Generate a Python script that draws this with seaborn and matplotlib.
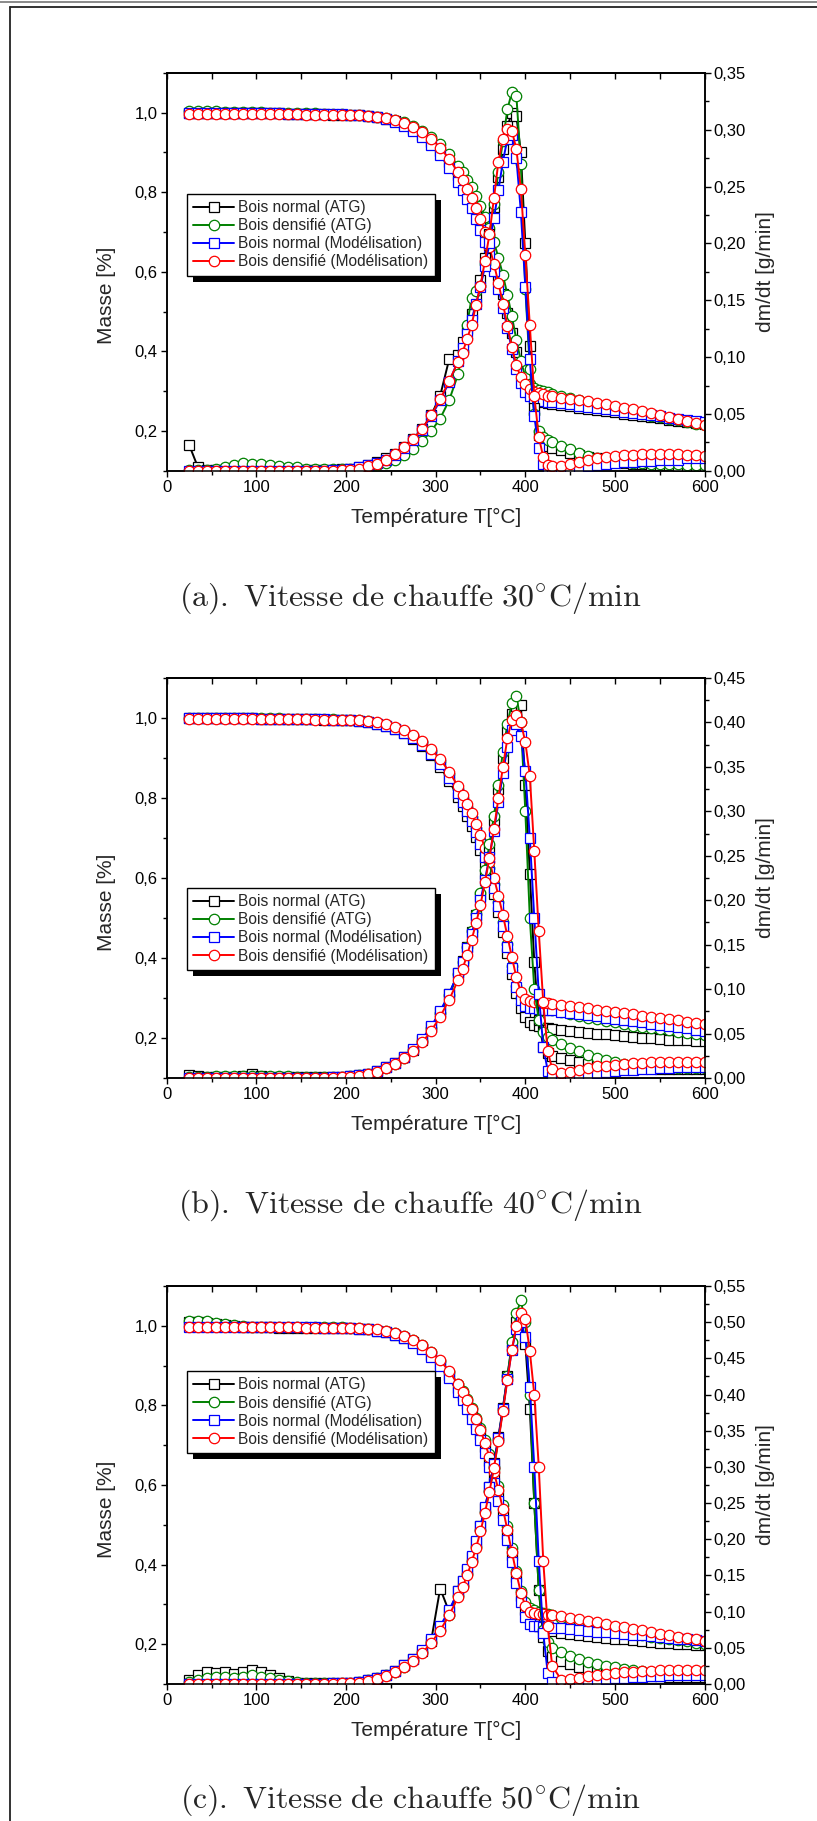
import matplotlib
matplotlib.use("Agg")
import matplotlib.pyplot as plt
import seaborn as sns
from matplotlib.lines import Line2D
from matplotlib.patches import Rectangle
from matplotlib.ticker import FuncFormatter, MultipleLocator
from matplotlib.transforms import IdentityTransform

# temperature grid shared by all curves (°C)
temp = ([25, 35, 45, 55, 65, 75, 85, 95, 105, 115, 125, 135, 145, 155, 165, 175, 185, 195]
        + [205, 215, 225, 235, 245, 255, 265, 275, 285, 295, 305, 315, 325]
        + [330, 335, 340, 345, 350, 355, 360, 365, 370, 375, 380, 385, 390, 395, 400,
           405, 410, 415, 420, 425, 430]
        + [440, 450, 460, 470, 480, 490, 500, 510, 520, 530, 540, 550, 560, 570, 580, 590, 600])

labels = ["Bois normal (ATG)", "Bois densifié (ATG)",
          "Bois normal (Modélisation)", "Bois densifié (Modélisation)"]

# ---------------- (a) 30 °C/min ----------------
tg_norm_atg_a = ([1.000, 1.000, 1.000, 1.000, 1.000, 0.999, 0.999, 0.999, 0.998, 0.998, 0.998, 0.997, 0.997, 0.997, 0.996, 0.996, 0.995, 0.995]
                 + [0.994, 0.993, 0.991, 0.988, 0.984, 0.978, 0.970, 0.959, 0.945, 0.927, 0.904, 0.876, 0.843]
                 + [0.824, 0.803, 0.781, 0.757, 0.730, 0.700, 0.667, 0.630, 0.589, 0.544, 0.496, 0.446, 0.398, 0.356, 0.322,
                    0.298, 0.284, 0.277, 0.273, 0.270, 0.268]
                 + [0.265, 0.262, 0.259, 0.256, 0.253, 0.250, 0.247, 0.244, 0.241, 0.238, 0.235, 0.232, 0.229, 0.226, 0.223, 0.220, 0.217])
tg_dens_atg_a = ([1.003, 1.003, 1.003, 1.003, 1.002, 1.002, 1.002, 1.001, 1.001, 1.000, 1.000, 0.999, 0.999, 0.998, 0.998, 0.997, 0.997, 0.996]
                 + [0.995, 0.994, 0.992, 0.990, 0.987, 0.982, 0.976, 0.967, 0.955, 0.940, 0.920, 0.895, 0.866]
                 + [0.850, 0.832, 0.812, 0.790, 0.766, 0.739, 0.709, 0.675, 0.636, 0.592, 0.543, 0.488, 0.430, 0.376, 0.337,
                    0.318, 0.309, 0.304, 0.300, 0.297, 0.294]
                 + [0.289, 0.284, 0.279, 0.274, 0.269, 0.264, 0.259, 0.254, 0.249, 0.244, 0.239, 0.235, 0.231, 0.227, 0.223, 0.219, 0.215])
tg_norm_mod_a = ([0.998, 0.998, 0.998, 0.998, 0.998, 0.998, 0.998, 0.998, 0.998, 0.998, 0.998, 0.997, 0.997, 0.997, 0.997, 0.996, 0.996, 0.996]
                 + [0.995, 0.993, 0.991, 0.988, 0.983, 0.976, 0.967, 0.955, 0.939, 0.918, 0.893, 0.862, 0.826]
                 + [0.806, 0.784, 0.760, 0.734, 0.706, 0.675, 0.640, 0.601, 0.558, 0.510, 0.458, 0.405, 0.357, 0.320, 0.298,
                    0.287, 0.281, 0.278, 0.276, 0.274, 0.273]
                 + [0.270, 0.267, 0.264, 0.261, 0.258, 0.255, 0.252, 0.249, 0.246, 0.243, 0.240, 0.237, 0.234, 0.231, 0.228, 0.225, 0.222])
tg_dens_mod_a = ([0.997, 0.997, 0.997, 0.997, 0.997, 0.997, 0.997, 0.997, 0.997, 0.996, 0.996, 0.996, 0.996, 0.995, 0.995, 0.995, 0.994, 0.994]
                 + [0.994, 0.993, 0.992, 0.990, 0.986, 0.981, 0.974, 0.965, 0.951, 0.935, 0.912, 0.884, 0.850]
                 + [0.830, 0.808, 0.785, 0.760, 0.732, 0.700, 0.662, 0.620, 0.572, 0.520, 0.465, 0.412, 0.365, 0.335, 0.318,
                    0.306, 0.299, 0.295, 0.292, 0.289, 0.287]
                 + [0.284, 0.281, 0.278, 0.275, 0.271, 0.267, 0.263, 0.259, 0.255, 0.250, 0.246, 0.241, 0.236, 0.231, 0.226, 0.221, 0.216])

dtg_norm_atg_a = ([0.023, 0.003, 0.001, 0.001, 0.001, 0.001, 0.001, 0.001, 0.001, 0.001, 0.001, 0.001, 0.001, 0.001, 0.001, 0.001, 0.001, 0.002]
                  + [0.002, 0.003, 0.005, 0.008, 0.011, 0.015, 0.021, 0.028, 0.037, 0.049, 0.066, 0.098, 0.102]
                  + [0.113, 0.125, 0.138, 0.152, 0.168, 0.187, 0.208, 0.232, 0.258, 0.283, 0.303, 0.315, 0.312, 0.280, 0.200,
                     0.110, 0.055, 0.032, 0.025, 0.022, 0.020]
                  + [0.018, 0.016, 0.014, 0.012, 0.011, 0.009, 0.008, 0.007, 0.006, 0.006, 0.005, 0.005, 0.005, 0.004, 0.004, 0.004, 0.004])
dtg_dens_atg_a = ([0.001, 0.001, 0.001, 0.002, 0.003, 0.005, 0.007, 0.006, 0.006, 0.005, 0.004, 0.003, 0.003, 0.002, 0.002, 0.002, 0.002, 0.002]
                  + [0.002, 0.002, 0.003, 0.005, 0.007, 0.010, 0.014, 0.019, 0.026, 0.035, 0.046, 0.062, 0.085]
                  + [0.105, 0.128, 0.152, 0.158, 0.163, 0.182, 0.207, 0.235, 0.263, 0.290, 0.318, 0.333, 0.330, 0.270, 0.160,
                     0.090, 0.050, 0.035, 0.030, 0.027, 0.025]
                  + [0.022, 0.019, 0.016, 0.013, 0.011, 0.010, 0.009, 0.008, 0.007, 0.007, 0.006, 0.006, 0.006, 0.006, 0.005, 0.005, 0.005])
dtg_norm_mod_a = ([0.000, 0.000, 0.000, 0.000, 0.000, 0.000, 0.000, 0.000, 0.000, 0.000, 0.000, 0.000, 0.000, 0.000, 0.000, 0.000, 0.001, 0.001]
                  + [0.002, 0.003, 0.005, 0.007, 0.010, 0.014, 0.020, 0.027, 0.036, 0.048, 0.062, 0.078, 0.097]
                  + [0.108, 0.120, 0.133, 0.147, 0.162, 0.180, 0.200, 0.222, 0.247, 0.272, 0.292, 0.295, 0.275, 0.228, 0.162,
                     0.098, 0.048, 0.020, 0.006, 0.001, 0.000]
                  + [0.001, 0.002, 0.003, 0.004, 0.005, 0.006, 0.007, 0.008, 0.008, 0.009, 0.009, 0.010, 0.010, 0.010, 0.011, 0.011, 0.011])
dtg_dens_mod_a = ([0.000, 0.000, 0.000, 0.000, 0.000, 0.000, 0.000, 0.000, 0.000, 0.000, 0.000, 0.000, 0.000, 0.000, 0.000, 0.000, 0.000, 0.001]
                  + [0.001, 0.002, 0.004, 0.006, 0.010, 0.015, 0.021, 0.028, 0.037, 0.049, 0.063, 0.079, 0.096]
                  + [0.104, 0.116, 0.128, 0.146, 0.163, 0.185, 0.208, 0.240, 0.272, 0.292, 0.301, 0.299, 0.283, 0.248, 0.190,
                     0.128, 0.066, 0.030, 0.012, 0.005, 0.004]
                  + [0.004, 0.006, 0.008, 0.010, 0.011, 0.012, 0.013, 0.014, 0.014, 0.015, 0.015, 0.015, 0.015, 0.015, 0.014, 0.014, 0.013])

# ---------------- (b) 40 °C/min ----------------
tg_norm_atg_b = ([1.000, 1.000, 1.000, 0.999, 0.999, 0.999, 0.999, 0.999, 0.998, 0.998, 0.998, 0.998, 0.997, 0.997, 0.997, 0.996, 0.996, 0.996]
                 + [0.995, 0.993, 0.990, 0.986, 0.980, 0.972, 0.962, 0.948, 0.930, 0.907, 0.878, 0.843, 0.802]
                 + [0.780, 0.756, 0.730, 0.702, 0.671, 0.637, 0.600, 0.559, 0.514, 0.465, 0.413, 0.360, 0.312, 0.275, 0.252,
                    0.240, 0.233, 0.229, 0.226, 0.224, 0.222]
                 + [0.219, 0.217, 0.215, 0.213, 0.211, 0.209, 0.207, 0.205, 0.203, 0.201, 0.199, 0.197, 0.196, 0.195, 0.194, 0.193, 0.192])
tg_dens_atg_b = ([1.001, 1.001, 1.001, 1.000, 1.000, 1.000, 1.000, 0.999, 0.999, 0.999, 0.999, 0.998, 0.998, 0.998, 0.997, 0.997, 0.997, 0.996]
                 + [0.996, 0.994, 0.992, 0.988, 0.983, 0.976, 0.967, 0.955, 0.939, 0.918, 0.892, 0.860, 0.822]
                 + [0.800, 0.777, 0.752, 0.725, 0.695, 0.662, 0.625, 0.585, 0.540, 0.490, 0.436, 0.380, 0.330, 0.300, 0.290,
                    0.285, 0.281, 0.278, 0.275, 0.272, 0.270]
                 + [0.265, 0.260, 0.255, 0.251, 0.247, 0.243, 0.239, 0.235, 0.231, 0.228, 0.225, 0.222, 0.219, 0.216, 0.213, 0.210, 0.207])
tg_norm_mod_b = ([0.999, 0.999, 0.999, 0.999, 0.999, 0.999, 0.999, 0.999, 0.998, 0.998, 0.998, 0.998, 0.998, 0.997, 0.997, 0.997, 0.996, 0.996]
                 + [0.995, 0.993, 0.990, 0.986, 0.981, 0.973, 0.963, 0.950, 0.933, 0.911, 0.884, 0.851, 0.812]
                 + [0.790, 0.767, 0.742, 0.715, 0.685, 0.652, 0.615, 0.574, 0.529, 0.480, 0.428, 0.375, 0.327, 0.295, 0.281,
                    0.276, 0.274, 0.272, 0.271, 0.270, 0.269]
                 + [0.266, 0.263, 0.260, 0.257, 0.254, 0.251, 0.248, 0.245, 0.242, 0.239, 0.236, 0.233, 0.230, 0.227, 0.224, 0.221, 0.218])
tg_dens_mod_b = ([0.998, 0.998, 0.998, 0.998, 0.998, 0.998, 0.998, 0.998, 0.998, 0.997, 0.997, 0.997, 0.997, 0.997, 0.996, 0.996, 0.996, 0.995]
                 + [0.995, 0.994, 0.992, 0.989, 0.985, 0.978, 0.970, 0.958, 0.942, 0.922, 0.897, 0.866, 0.829]
                 + [0.808, 0.786, 0.762, 0.736, 0.707, 0.675, 0.640, 0.600, 0.556, 0.507, 0.455, 0.402, 0.352, 0.315, 0.298,
                    0.292, 0.290, 0.289, 0.288, 0.287, 0.286]
                 + [0.283, 0.280, 0.277, 0.274, 0.271, 0.268, 0.265, 0.262, 0.259, 0.256, 0.253, 0.250, 0.247, 0.244, 0.241, 0.238, 0.235])

dtg_norm_atg_b = ([0.003, 0.002, 0.001, 0.001, 0.001, 0.001, 0.002, 0.004, 0.002, 0.001, 0.001, 0.001, 0.001, 0.001, 0.001, 0.001, 0.001, 0.001]
                  + [0.002, 0.003, 0.005, 0.008, 0.012, 0.017, 0.024, 0.032, 0.043, 0.057, 0.074, 0.094, 0.118]
                  + [0.132, 0.147, 0.164, 0.183, 0.205, 0.230, 0.258, 0.290, 0.325, 0.360, 0.390, 0.410, 0.418, 0.420, 0.330,
                     0.230, 0.130, 0.065, 0.035, 0.028, 0.025]
                  + [0.022, 0.020, 0.018, 0.016, 0.015, 0.014, 0.013, 0.012, 0.012, 0.011, 0.011, 0.010, 0.010, 0.010, 0.010, 0.010, 0.010])
dtg_dens_atg_b = ([0.001, 0.001, 0.001, 0.002, 0.002, 0.002, 0.002, 0.002, 0.002, 0.002, 0.002, 0.002, 0.001, 0.001, 0.001, 0.001, 0.001, 0.001]
                  + [0.002, 0.003, 0.005, 0.007, 0.011, 0.016, 0.023, 0.031, 0.042, 0.056, 0.073, 0.093, 0.117]
                  + [0.131, 0.147, 0.165, 0.185, 0.208, 0.234, 0.263, 0.295, 0.330, 0.367, 0.398, 0.422, 0.430, 0.400, 0.300,
                     0.180, 0.100, 0.065, 0.052, 0.046, 0.043]
                  + [0.038, 0.034, 0.030, 0.026, 0.023, 0.020, 0.018, 0.016, 0.015, 0.014, 0.013, 0.012, 0.012, 0.011, 0.011, 0.011, 0.011])
dtg_norm_mod_b = ([0.000, 0.000, 0.000, 0.000, 0.000, 0.000, 0.000, 0.000, 0.000, 0.000, 0.000, 0.000, 0.000, 0.000, 0.000, 0.000, 0.001, 0.001]
                  + [0.002, 0.003, 0.005, 0.008, 0.012, 0.017, 0.024, 0.033, 0.044, 0.058, 0.075, 0.095, 0.118]
                  + [0.131, 0.146, 0.162, 0.180, 0.200, 0.223, 0.249, 0.278, 0.310, 0.343, 0.372, 0.392, 0.398, 0.385, 0.345,
                     0.270, 0.180, 0.095, 0.035, 0.008, 0.002]
                  + [0.002, 0.003, 0.004, 0.005, 0.006, 0.007, 0.008, 0.009, 0.009, 0.010, 0.010, 0.011, 0.011, 0.012, 0.012, 0.012, 0.012])
dtg_dens_mod_b = ([0.000, 0.000, 0.000, 0.000, 0.000, 0.000, 0.000, 0.000, 0.000, 0.000, 0.000, 0.000, 0.000, 0.000, 0.000, 0.000, 0.000, 0.001]
                  + [0.001, 0.002, 0.004, 0.007, 0.011, 0.016, 0.022, 0.030, 0.040, 0.053, 0.069, 0.088, 0.110]
                  + [0.123, 0.138, 0.155, 0.174, 0.195, 0.220, 0.248, 0.280, 0.315, 0.350, 0.382, 0.403, 0.408, 0.400, 0.378,
                     0.340, 0.255, 0.165, 0.085, 0.030, 0.010]
                  + [0.006, 0.007, 0.009, 0.011, 0.013, 0.014, 0.015, 0.016, 0.017, 0.017, 0.018, 0.018, 0.018, 0.018, 0.018, 0.018, 0.018])

# ---------------- (c) 50 °C/min ----------------
tg_norm_atg_c = ([1.010, 1.010, 1.008, 1.005, 1.003, 1.000, 0.998, 0.997, 0.996, 0.996, 0.995, 0.995, 0.995, 0.995, 0.995, 0.995, 0.995, 0.995]
                 + [0.994, 0.993, 0.991, 0.988, 0.984, 0.978, 0.970, 0.959, 0.945, 0.927, 0.904, 0.876, 0.843]
                 + [0.824, 0.803, 0.780, 0.755, 0.727, 0.696, 0.661, 0.622, 0.578, 0.530, 0.478, 0.424, 0.370, 0.322, 0.287,
                    0.265, 0.252, 0.245, 0.240, 0.236, 0.233]
                 + [0.229, 0.226, 0.223, 0.220, 0.218, 0.216, 0.214, 0.212, 0.210, 0.208, 0.206, 0.204, 0.202, 0.201, 0.200, 0.199, 0.198])
tg_dens_atg_c = ([1.012, 1.012, 1.011, 1.008, 1.005, 1.002, 1.000, 0.998, 0.997, 0.997, 0.996, 0.996, 0.996, 0.996, 0.996, 0.996, 0.996, 0.996]
                 + [0.995, 0.994, 0.993, 0.990, 0.986, 0.981, 0.974, 0.964, 0.951, 0.934, 0.912, 0.885, 0.853]
                 + [0.835, 0.815, 0.793, 0.769, 0.742, 0.712, 0.678, 0.640, 0.597, 0.550, 0.498, 0.442, 0.385, 0.335, 0.305,
                    0.292, 0.286, 0.282, 0.279, 0.276, 0.273]
                 + [0.267, 0.261, 0.255, 0.250, 0.245, 0.240, 0.235, 0.231, 0.227, 0.223, 0.219, 0.216, 0.213, 0.210, 0.207, 0.204, 0.201])
tg_norm_mod_c = ([0.997, 0.997, 0.997, 0.997, 0.997, 0.997, 0.997, 0.997, 0.997, 0.997, 0.996, 0.996, 0.996, 0.996, 0.996, 0.995, 0.995, 0.995]
                 + [0.994, 0.993, 0.991, 0.988, 0.984, 0.977, 0.969, 0.957, 0.942, 0.922, 0.898, 0.868, 0.833]
                 + [0.813, 0.791, 0.767, 0.741, 0.712, 0.680, 0.645, 0.605, 0.561, 0.513, 0.461, 0.407, 0.355, 0.305, 0.268,
                    0.250, 0.246, 0.245, 0.244, 0.243, 0.242]
                 + [0.240, 0.238, 0.236, 0.234, 0.232, 0.230, 0.228, 0.226, 0.224, 0.222, 0.220, 0.218, 0.216, 0.214, 0.212, 0.210, 0.208])
tg_dens_mod_c = ([0.996, 0.996, 0.996, 0.996, 0.996, 0.996, 0.996, 0.996, 0.996, 0.996, 0.996, 0.996, 0.996, 0.995, 0.995, 0.995, 0.995, 0.995]
                 + [0.995, 0.994, 0.993, 0.991, 0.987, 0.982, 0.975, 0.965, 0.952, 0.935, 0.913, 0.886, 0.853]
                 + [0.834, 0.813, 0.790, 0.765, 0.737, 0.706, 0.671, 0.632, 0.588, 0.540, 0.487, 0.432, 0.378, 0.330, 0.296,
                    0.282, 0.278, 0.276, 0.275, 0.274, 0.273]
                 + [0.270, 0.267, 0.263, 0.259, 0.255, 0.251, 0.247, 0.243, 0.239, 0.235, 0.231, 0.227, 0.223, 0.219, 0.215, 0.212, 0.209])

dtg_norm_atg_c = ([0.005, 0.012, 0.016, 0.015, 0.016, 0.014, 0.016, 0.020, 0.016, 0.013, 0.008, 0.004, 0.002, 0.001, 0.001, 0.001, 0.001, 0.001]
                  + [0.002, 0.003, 0.005, 0.008, 0.012, 0.018, 0.026, 0.035, 0.046, 0.060, 0.132, 0.100, 0.128]
                  + [0.142, 0.158, 0.176, 0.196, 0.218, 0.243, 0.272, 0.305, 0.342, 0.382, 0.425, 0.468, 0.500, 0.505, 0.470,
                     0.380, 0.250, 0.130, 0.065, 0.045, 0.038]
                  + [0.032, 0.028, 0.024, 0.021, 0.019, 0.017, 0.015, 0.014, 0.013, 0.012, 0.011, 0.011, 0.010, 0.010, 0.010, 0.010, 0.010])
dtg_dens_atg_c = ([0.003, 0.005, 0.008, 0.010, 0.010, 0.009, 0.010, 0.012, 0.010, 0.008, 0.006, 0.004, 0.003, 0.002, 0.002, 0.002, 0.002, 0.002]
                  + [0.002, 0.003, 0.005, 0.008, 0.012, 0.017, 0.024, 0.033, 0.044, 0.058, 0.075, 0.096, 0.122]
                  + [0.136, 0.152, 0.170, 0.190, 0.213, 0.238, 0.267, 0.300, 0.338, 0.380, 0.425, 0.472, 0.512, 0.530, 0.500,
                     0.400, 0.250, 0.130, 0.075, 0.058, 0.050]
                  + [0.044, 0.039, 0.035, 0.031, 0.028, 0.025, 0.023, 0.021, 0.019, 0.018, 0.017, 0.016, 0.016, 0.015, 0.015, 0.015, 0.015])
dtg_norm_mod_c = ([0.000, 0.000, 0.000, 0.000, 0.000, 0.000, 0.000, 0.000, 0.000, 0.000, 0.000, 0.000, 0.000, 0.000, 0.000, 0.000, 0.001, 0.001]
                  + [0.002, 0.003, 0.005, 0.008, 0.012, 0.018, 0.026, 0.035, 0.047, 0.062, 0.080, 0.102, 0.128]
                  + [0.143, 0.159, 0.177, 0.197, 0.219, 0.244, 0.272, 0.304, 0.340, 0.380, 0.422, 0.462, 0.490, 0.500, 0.480,
                     0.410, 0.300, 0.170, 0.070, 0.015, 0.003]
                  + [0.002, 0.003, 0.004, 0.005, 0.006, 0.007, 0.008, 0.009, 0.010, 0.010, 0.011, 0.011, 0.012, 0.012, 0.012, 0.012, 0.012])
dtg_dens_mod_c = ([0.000, 0.000, 0.000, 0.000, 0.000, 0.000, 0.000, 0.000, 0.000, 0.000, 0.000, 0.000, 0.000, 0.000, 0.000, 0.000, 0.000, 0.001]
                  + [0.001, 0.002, 0.004, 0.007, 0.011, 0.016, 0.023, 0.032, 0.043, 0.057, 0.074, 0.095, 0.120]
                  + [0.134, 0.150, 0.168, 0.188, 0.211, 0.237, 0.266, 0.299, 0.336, 0.377, 0.420, 0.462, 0.495, 0.512, 0.505,
                     0.460, 0.400, 0.300, 0.170, 0.080, 0.025]
                  + [0.006, 0.007, 0.009, 0.011, 0.013, 0.014, 0.015, 0.016, 0.017, 0.018, 0.018, 0.019, 0.019, 0.020, 0.020, 0.020, 0.020])

colors = ["black", "green", "blue", "red"]
markers = ["s", "o", "s", "o"]

sns.set_theme(style="ticks")
plt.rcParams["font.family"] = ["Liberation Sans", "DejaVu Sans"]
plt.rcParams["mathtext.fontset"] = "cm"
plt.rcParams["axes.linewidth"] = 1.1
plt.rcParams["xtick.color"] = "black"
plt.rcParams["ytick.color"] = "black"
plt.rcParams["axes.edgecolor"] = "black"

fmt1 = FuncFormatter(lambda v, p: f"{v:.1f}".replace(".", ","))
fmt2 = FuncFormatter(lambda v, p: f"{v:.2f}".replace(".", ","))

panels = [
    dict(tg=[tg_norm_atg_a, tg_dens_atg_a, tg_norm_mod_a, tg_dens_mod_a],
         dtg=[dtg_norm_atg_a, dtg_dens_atg_a, dtg_norm_mod_a, dtg_dens_mod_a],
         rmax=0.35, pos=[0.204, 0.7414, 0.6585, 0.2186], leg=(0.038, 0.696),
         cap=r"$\mathrm{(a).\ Vitesse\ de\ chauffe\ 30^{\circ}C/min}$", cap_y=1 - 598 / 1821),
    dict(tg=[tg_norm_atg_b, tg_dens_atg_b, tg_norm_mod_b, tg_dens_mod_b],
         dtg=[dtg_norm_atg_b, dtg_dens_atg_b, dtg_norm_mod_b, dtg_dens_mod_b],
         rmax=0.45, pos=[0.204, 0.4080, 0.6585, 0.2197], leg=(0.038, 0.475),
         cap=r"$\mathrm{(b).\ Vitesse\ de\ chauffe\ 40^{\circ}C/min}$", cap_y=1 - 1205 / 1821),
    dict(tg=[tg_norm_atg_c, tg_dens_atg_c, tg_norm_mod_c, tg_dens_mod_c],
         dtg=[dtg_norm_atg_c, dtg_dens_atg_c, dtg_norm_mod_c, dtg_dens_mod_c],
         rmax=0.55, pos=[0.204, 0.0752, 0.6585, 0.2186], leg=(0.038, 0.786),
         cap=r"$\mathrm{(c).\ Vitesse\ de\ chauffe\ 50^{\circ}C/min}$", cap_y=1 - 1800 / 1821),
]

fig = plt.figure(figsize=(8.17, 18.21), dpi=100)
legends = []

for p in panels:
    ax = fig.add_axes(p["pos"])
    ax2 = ax.twinx()
    for vals, c, m in zip(p["tg"], colors, markers):
        sns.lineplot(x=temp, y=vals, ax=ax, color=c, marker=m, markersize=7.5 if m == "o" else 6.5,
                     markerfacecolor="white", markeredgecolor=c, markeredgewidth=0.9,
                     linewidth=1.4, errorbar=None, legend=False)
    for vals, c, m in zip(p["dtg"], colors, markers):
        sns.lineplot(x=temp, y=vals, ax=ax2, color=c, marker=m, markersize=7.5 if m == "o" else 6.5,
                     markerfacecolor="white", markeredgecolor=c, markeredgewidth=0.9,
                     linewidth=1.4, errorbar=None, legend=False)

    ax.set_xlim(0, 600)
    ax.set_ylim(0.1, 1.1)
    ax2.set_ylim(0, p["rmax"])
    ax.xaxis.set_major_locator(MultipleLocator(100))
    ax.xaxis.set_minor_locator(MultipleLocator(50))
    ax.yaxis.set_minor_locator(MultipleLocator(0.1))
    ax.set_yticks([0.2, 0.4, 0.6, 0.8, 1.0])
    ax.yaxis.set_major_formatter(fmt1)
    ax2.yaxis.set_major_locator(MultipleLocator(0.05))
    ax2.yaxis.set_minor_locator(MultipleLocator(0.025))
    ax2.yaxis.set_major_formatter(fmt2)
    for a in (ax, ax2):
        a.tick_params(which="major", length=4.5, width=1.0, labelsize=12, direction="out", pad=2)
        a.tick_params(which="minor", length=2.6, width=1.0, direction="out")
        for s in a.spines.values():
            s.set_visible(True)
            s.set_linewidth(1.1)
            s.set_color("black")
    top = ax.secondary_xaxis("top")
    top.xaxis.set_major_locator(MultipleLocator(50))
    top.tick_params(direction="in", length=4.5, width=1.0, labeltop=False)

    ax.set_xlabel("Température T[°C]", fontsize=15, labelpad=9)
    ax.set_ylabel("Masse [%]", fontsize=15)
    ax.yaxis.set_label_coords(-0.095, 0.44)
    ax2.set_ylabel("dm/dt [g/min]", fontsize=15, labelpad=7, rotation=90)

    handles = [Line2D([], [], color=c, marker=m, markersize=7.5 if m == "o" else 6.5,
                      markerfacecolor="white", markeredgecolor=c, markeredgewidth=0.9, linewidth=1.4)
               for c, m in zip(colors, markers)]
    leg = ax2.legend(handles, labels, loc="upper left", bbox_to_anchor=p["leg"], borderaxespad=0,
                     fontsize=11.2, frameon=True, fancybox=False, framealpha=1, edgecolor="black",
                     handlelength=2.6, handletextpad=0.3, borderpad=0.4, labelspacing=0.2)
    leg.get_frame().set_linewidth(1.0)
    legends.append((ax2, leg))

    fig.text(0.502, p["cap_y"], p["cap"], ha="center", va="center", fontsize=23)

# solid black shadow behind each legend box
fig.canvas.draw()
for ax2, leg in legends:
    bb = leg.get_frame().get_window_extent()
    shadow = Rectangle((bb.x0 + 6, bb.y0 - 6), bb.width, bb.height, transform=IdentityTransform(),
                       facecolor="black", edgecolor="none", zorder=4.9)
    ax2.add_patch(shadow)

# page frame lines
fig.add_artist(Line2D([0, 1], [1 - 1.7 / 1821] * 2, transform=fig.transFigure, color="#777777", lw=1.2))
fig.add_artist(Line2D([0.0122, 1], [1 - 6.5 / 1821] * 2, transform=fig.transFigure, color="#222222", lw=1.3))
fig.add_artist(Line2D([0.0122, 0.0122], [0, 1 - 6.5 / 1821], transform=fig.transFigure, color="#222222", lw=1.3))

fig.savefig("out.png", dpi=100)
